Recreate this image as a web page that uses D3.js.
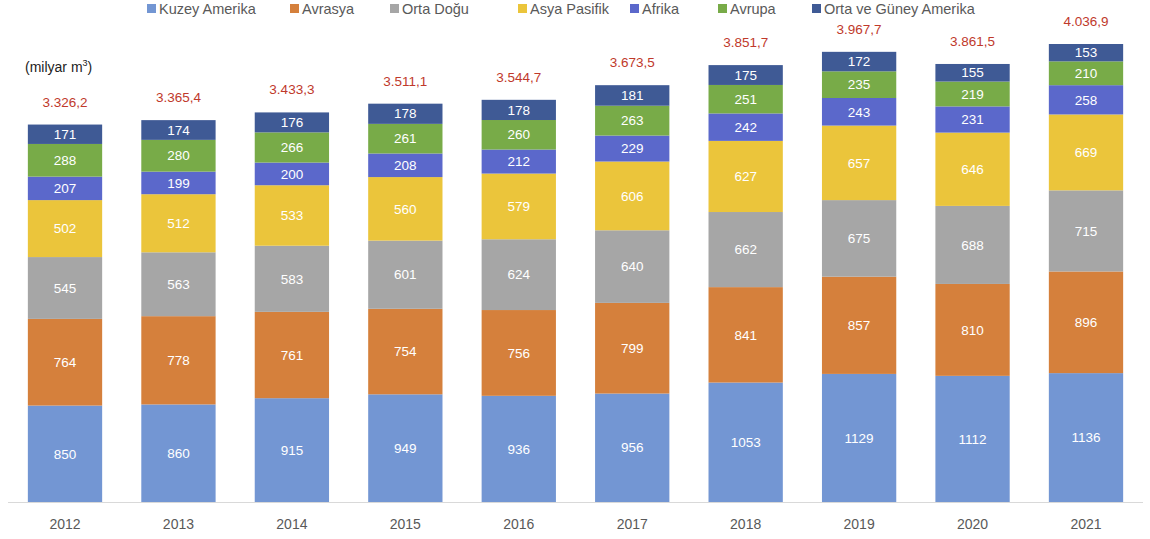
<!DOCTYPE html>
<html>
<head>
<meta charset="utf-8">
<script src="https://cdn.jsdelivr.net/npm/d3@7"></script>
<style>
  body { margin: 0; background: #fff; }
  svg { font-family: "Liberation Sans", Arial, sans-serif; }
</style>
</head>
<body>
<svg id="chart" width="1150" height="539"></svg>
<script>
// Chart data (milyar m3)
var years = ['2012', '2013', '2014', '2015', '2016', '2017', '2018', '2019', '2020', '2021'];
var regions = ['Kuzey Amerika', 'Avrasya', 'Orta Doğu', 'Asya Pasifik', 'Afrika', 'Avrupa', 'Orta ve Güney Amerika'];
var kuzeyAmerika = [850, 860, 915, 949, 936, 956, 1053, 1129, 1112, 1136];
var avrasya = [764, 778, 761, 754, 756, 799, 841, 857, 810, 896];
var ortaDogu = [545, 563, 583, 601, 624, 640, 662, 675, 688, 715];
var asyaPasifik = [502, 512, 533, 560, 579, 606, 627, 657, 646, 669];
var afrika = [207, 199, 200, 208, 212, 229, 242, 243, 231, 258];
var avrupa = [288, 280, 266, 261, 260, 263, 251, 235, 219, 210];
var ortaGuney = [171, 174, 176, 178, 178, 181, 175, 172, 155, 153];
var totals = ['3.326,2', '3.365,4', '3.433,3', '3.511,1', '3.544,7', '3.673,5', '3.851,7', '3.967,7', '3.861,5', '4.036,9'];

var colors = ['#7396d3', '#d5803c', '#a6a6a6', '#ebc53b', '#5b68cb', '#78ab48', '#3f5a95'];
var legendX = [147, 290, 390, 518, 630, 718, 812];

var series = [kuzeyAmerika, avrasya, ortaDogu, asyaPasifik, afrika, avrupa, ortaGuney];

// Build table for d3.stack
var table = years.map(function(y, i) {
  var row = {year: y};
  regions.forEach(function(r, k) { row[r] = series[k][i]; });
  return row;
});

var svg = d3.select('#chart');

var x = d3.scaleBand()
  .domain(years)
  .range([8, 1143])
  .paddingInner(0.345)
  .paddingOuter(0.175);

var baseY = 502;
var y = d3.scaleLinear()
  .domain([0, 4000])
  .range([baseY, baseY - 4000 * 0.11345]);

var stacked = d3.stack().keys(regions)(table);

var layers = svg.append('g').selectAll('g.layer')
  .data(stacked)
  .enter()
  .append('g')
  .attr('class', 'layer')
  .attr('fill', function(d, i) { return colors[i]; });

layers.selectAll('rect')
  .data(function(d) { return d; })
  .enter()
  .append('rect')
  .attr('x', function(d) { return x(d.data.year); })
  .attr('width', x.bandwidth())
  .attr('y', function(d) { return y(d[1]); })
  .attr('height', function(d) { return y(d[0]) - y(d[1]); });

// Segment value labels
layers.selectAll('text')
  .data(function(d) { return d.map(function(p) { return {p: p, key: d.key}; }); })
  .enter()
  .append('text')
  .attr('x', function(d) { return x(d.p.data.year) + x.bandwidth() / 2; })
  .attr('y', function(d) { return (y(d.p[0]) + y(d.p[1])) / 2; })
  .attr('dy', '0.35em')
  .attr('text-anchor', 'middle')
  .attr('fill', '#fff')
  .attr('font-size', 13.5)
  .text(function(d) { return d.p.data[d.key]; });

// Totals above bars
var topLayer = stacked[stacked.length - 1];
svg.append('g').selectAll('text')
  .data(topLayer)
  .enter()
  .append('text')
  .attr('x', function(d) { return x(d.data.year) + x.bandwidth() / 2; })
  .attr('y', function(d) { return y(d[1]) - 18; })
  .attr('text-anchor', 'middle')
  .attr('fill', '#c0392b')
  .attr('font-size', 13.5)
  .text(function(d, i) { return totals[i]; });

// X axis
var xAxis = svg.append('g')
  .attr('transform', 'translate(0,' + baseY + ')')
  .call(d3.axisBottom(x).tickSize(0).tickPadding(17));
xAxis.select('.domain').attr('stroke', '#d9d9d9').attr('d', 'M8,0.5H1143');
xAxis.selectAll('text')
  .attr('font-size', 14)
  .attr('font-family', '"Liberation Sans", Arial, sans-serif')
  .attr('fill', '#595959');

// Unit label
var unit = svg.append('text')
  .attr('x', 25)
  .attr('y', 72)
  .attr('font-size', 14)
  .attr('fill', '#222');
unit.append('tspan').text('(milyar m');
unit.append('tspan').attr('font-size', 9).attr('dy', -6).text('3');
unit.append('tspan').attr('dy', 6).text(')');

// Legend
var legend = svg.append('g').selectAll('g')
  .data(regions)
  .enter()
  .append('g')
  .attr('transform', function(d, i) { return 'translate(' + legendX[i] + ',0)'; });

legend.append('rect')
  .attr('x', 0)
  .attr('y', 4)
  .attr('width', 9)
  .attr('height', 9)
  .attr('fill', function(d, i) { return colors[i]; });

legend.append('text')
  .attr('x', 12)
  .attr('y', 14)
  .attr('font-size', 14.5)
  .attr('fill', '#595959')
  .text(function(d) { return d; });
</script>
</body>
</html>
